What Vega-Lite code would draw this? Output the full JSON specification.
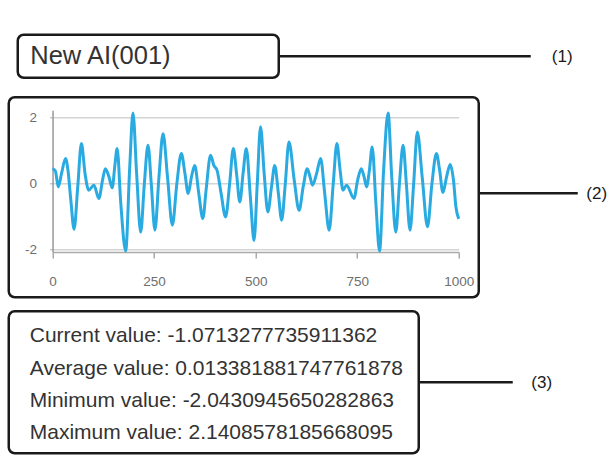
{
  "$schema": "https://vega.github.io/schema/vega-lite/v6.json",
  "padding": {"left": 6.75, "top": 32.75, "right": 0, "bottom": 0},
  "autosize": {"type": "pad"},
  "background": "white",
  "config": {"view": {"stroke": null}, "font": "Liberation Sans"},
  "spacing": 10.5,
  "vconcat": [
    {
      "spacing": 15.5,
      "vconcat": [
        {
          "bounds": "flush",
          "spacing": 0,
          "hconcat": [
            {
              "width": 8.25, "height": 43,
              "view": {"fill": "white"},
              "data": {"values": [{"t": ""}]},
              "mark": {"type": "text"},
              "encoding": {"text": {"field": "t"}}
            },
            {
              "width": 261, "height": 43,
              "view": {"stroke": "#1a1a1a", "strokeWidth": 2.5, "cornerRadius": 6, "fill": "white"},
              "data": {"values": [{"title": "New AI(001)"}]},
              "mark": {"type": "text", "align": "left", "baseline": "middle", "dx": -118, "dy": 0, "fontSize": 25.5, "color": "#333333"},
              "encoding": {"text": {"field": "title"}}
            },
            {
              "width": 252, "height": 43,
              "data": {"values": [{"k": 1}]},
              "mark": {"type": "rule", "color": "#1a1a1a", "strokeWidth": 2.5},
              "encoding": {
                "x": {"datum": 0, "type": "quantitative", "scale": {"domain": [0, 1]}, "axis": null},
                "x2": {"datum": 1},
                "y": {"datum": 0, "type": "quantitative", "scale": {"domain": [-1, 1]}, "axis": null}
              }
            },
            {
              "width": 63, "height": 43,
              "data": {"values": [{"label": "(1)"}]},
              "mark": {"type": "text", "fontSize": 17, "color": "#1a1a1a", "dy": 1},
              "encoding": {"text": {"field": "label"}}
            }
          ]
        },
        {
          "bounds": "flush",
          "spacing": 0,
          "hconcat": [
            {
              "width": 470, "height": 200,
              "view": {"stroke": "#1a1a1a", "strokeWidth": 2.5, "cornerRadius": 6, "fill": "white"},
              "data": {"values": [
                {"t": 0, "v": 0.45}, {"t": 7, "v": 0.38}, {"t": 14, "v": -0.1}, {"t": 22, "v": 0.3}, {"t": 32, "v": 0.76},
                {"t": 38, "v": 0.4}, {"t": 45, "v": -0.5}, {"t": 53, "v": -1.38}, {"t": 62, "v": -0.1}, {"t": 71, "v": 1.21},
                {"t": 80, "v": 0.3}, {"t": 89, "v": -0.2}, {"t": 102, "v": -0.05}, {"t": 114, "v": -0.45}, {"t": 123, "v": 0.1},
                {"t": 130, "v": 0.45}, {"t": 139, "v": 0.2}, {"t": 147, "v": -0.13}, {"t": 153, "v": 0.5}, {"t": 159, "v": 1.06},
                {"t": 168, "v": -0.6}, {"t": 180, "v": -2.04}, {"t": 190, "v": 0.5}, {"t": 198, "v": 2.14}, {"t": 207, "v": 0.3},
                {"t": 217, "v": -1.47}, {"t": 226, "v": 0}, {"t": 235, "v": 1.16}, {"t": 243, "v": 0}, {"t": 252, "v": -1.41},
                {"t": 262, "v": 0.2}, {"t": 272, "v": 1.51}, {"t": 283, "v": 0.2}, {"t": 295, "v": -1.26}, {"t": 306, "v": 0},
                {"t": 317, "v": 0.91}, {"t": 326, "v": 0.3}, {"t": 334, "v": -0.3}, {"t": 342, "v": 0.2}, {"t": 350, "v": 0.55},
                {"t": 360, "v": -0.3}, {"t": 370, "v": -1.06}, {"t": 378, "v": -0.2}, {"t": 389, "v": 0.86}, {"t": 397, "v": 0.55},
                {"t": 405, "v": 0.4}, {"t": 415, "v": -0.3}, {"t": 426, "v": -1.01}, {"t": 436, "v": 0}, {"t": 445, "v": 1.06},
                {"t": 453, "v": 0.3}, {"t": 461, "v": -0.56}, {"t": 469, "v": 0.3}, {"t": 477, "v": 1.06}, {"t": 487, "v": -0.4},
                {"t": 496, "v": -1.72}, {"t": 504, "v": 0}, {"t": 512, "v": 1.72}, {"t": 521, "v": 0.3}, {"t": 530, "v": -0.86},
                {"t": 539, "v": -0.1}, {"t": 547, "v": 0.55}, {"t": 556, "v": -0.3}, {"t": 564, "v": -1.11}, {"t": 573, "v": 0},
                {"t": 582, "v": 1.26}, {"t": 595, "v": 0.1}, {"t": 607, "v": -0.81}, {"t": 617, "v": -0.1}, {"t": 627, "v": 0.45},
                {"t": 634, "v": 0.2}, {"t": 640, "v": -0.05}, {"t": 650, "v": 0.3}, {"t": 660, "v": 0.76}, {"t": 670, "v": -0.3},
                {"t": 681, "v": -1.41}, {"t": 691, "v": 0}, {"t": 700, "v": 1.21}, {"t": 708, "v": 0.4}, {"t": 715, "v": -0.2},
                {"t": 724, "v": -0.05}, {"t": 742, "v": -0.45}, {"t": 751, "v": 0.1}, {"t": 760, "v": 0.45}, {"t": 767, "v": 0.2},
                {"t": 773, "v": -0.1}, {"t": 780, "v": 0.4}, {"t": 787, "v": 1.11}, {"t": 796, "v": -0.6}, {"t": 805, "v": -2.04},
                {"t": 815, "v": 0.4}, {"t": 826, "v": 2.14}, {"t": 835, "v": 0.2}, {"t": 845, "v": -1.47}, {"t": 854, "v": 0},
                {"t": 863, "v": 1.16}, {"t": 871, "v": 0}, {"t": 880, "v": -1.41}, {"t": 889, "v": 0}, {"t": 898, "v": 1.56},
                {"t": 910, "v": 0.2}, {"t": 923, "v": -1.31}, {"t": 934, "v": 0}, {"t": 945, "v": 0.91}, {"t": 953, "v": 0.4},
                {"t": 961, "v": -0.27}, {"t": 970, "v": 0.2}, {"t": 979, "v": 0.58}, {"t": 987, "v": 0.1}, {"t": 993, "v": -0.7},
                {"t": 1000, "v": -1.07}
              ]},
              "mark": {"type": "line", "interpolate": "monotone", "color": "#29abe2", "strokeWidth": 3},
              "encoding": {
                "x": {
                  "field": "t", "type": "quantitative",
                  "scale": {"domain": [0, 1000], "range": [43.8, 450], "nice": false, "zero": false},
                  "axis": {"orient": "bottom", "offset": -45.3, "values": [0, 250, 500, 750, 1000], "grid": false, "title": null,
                    "labelExpr": "'' + datum.value",
                    "domainColor": "#aaaaaa", "domainWidth": 1.5, "tickColor": "#aaaaaa", "tickSize": 6, "tickWidth": 1.5,
                    "labelPadding": 17, "labelFontSize": 13.5, "labelColor": "#6e6e6e", "labelFlush": false}
                },
                "y": {
                  "field": "v", "type": "quantitative",
                  "scale": {"domain": [-2.07, 2.22], "range": [154.7, 13], "nice": false, "zero": false},
                  "axis": {"orient": "left", "offset": -43.8, "values": [-2, 0, 2], "grid": true, "gridColor": "#d3d3d3", "gridWidth": 1.5,
                    "labelExpr": "'' + datum.value",
                    "title": null, "domainColor": "#999999", "domainWidth": 1.5, "tickSize": 3, "tickColor": "#c8c8c8", "tickWidth": 1.5,
                    "labelPadding": 13, "labelFontSize": 13.5, "labelColor": "#6e6e6e"}
                }
              }
            },
            {
              "width": 99, "height": 200,
              "data": {"values": [{"k": 1}]},
              "mark": {"type": "rule", "color": "#1a1a1a", "strokeWidth": 2.5},
              "encoding": {
                "x": {"datum": 0, "type": "quantitative", "scale": {"domain": [0, 1]}, "axis": null},
                "x2": {"datum": 1},
                "y": {"datum": 0.04, "type": "quantitative", "scale": {"domain": [-1, 1]}, "axis": null}
              }
            },
            {
              "width": 31, "height": 200,
              "data": {"values": [{"label": "(2)"}]},
              "mark": {"type": "text", "fontSize": 17, "color": "#1a1a1a", "dx": 3.5, "dy": 1},
              "encoding": {
                "text": {"field": "label"},
                "y": {"datum": 0.04, "type": "quantitative", "scale": {"domain": [-1, 1]}, "axis": null}
              }
            }
          ]
        }
      ]
    },
    {
      "bounds": "flush",
      "spacing": 0,
      "hconcat": [
        {
          "width": 410, "height": 142,
          "view": {"stroke": "#1a1a1a", "strokeWidth": 2.5, "cornerRadius": 6, "fill": "white"},
          "data": {"values": [
            {"line": "Current value: -1.0713277735911362"},
            {"line": "Average value: 0.013381881747761878"},
            {"line": "Minimum value: -2.0430945650282863"},
            {"line": "Maximum value: 2.1408578185668095"}
          ]},
          "mark": {"type": "text", "align": "left", "baseline": "middle", "dx": -184, "dy": 2.5, "fontSize": 21, "color": "#333333"},
          "encoding": {
            "text": {"field": "line"},
            "y": {"field": "line", "type": "nominal", "sort": null, "axis": null, "scale": {"type": "point", "padding": 0.7}}
          }
        },
        {
          "width": 94, "height": 142,
          "data": {"values": [{"k": 1}]},
          "mark": {"type": "rule", "color": "#1a1a1a", "strokeWidth": 2.5},
          "encoding": {
            "x": {"datum": 0, "type": "quantitative", "scale": {"domain": [0, 1]}, "axis": null},
            "x2": {"datum": 1},
            "y": {"datum": 0, "type": "quantitative", "scale": {"domain": [-1, 1]}, "axis": null}
          }
        },
        {
          "width": 58, "height": 142,
          "data": {"values": [{"label": "(3)"}]},
          "mark": {"type": "text", "fontSize": 17, "color": "#1a1a1a", "dy": 1},
          "encoding": {"text": {"field": "label"}}
        }
      ]
    }
  ]
}
